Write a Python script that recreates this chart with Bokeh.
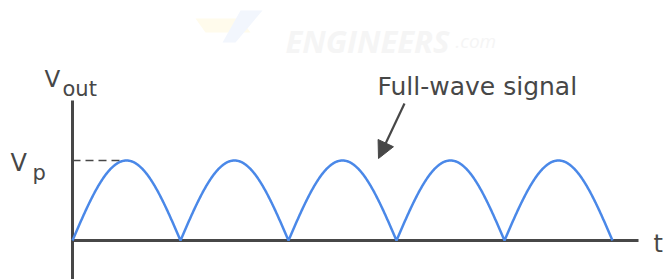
import numpy as np
from bokeh.plotting import figure
from bokeh.models import Range1d, Arrow, NormalHead
from bokeh.core.properties import value
from bokeh.embed import file_html
from bokeh.resources import INLINE

# ---- data ----
peak_voltage = 1.0          # Vp
half_cycles = 5             # number of rectified half-waves shown
samples_per_half = 200
axis_labels = ["V", "out", "V", "p", "t"]
annotation_text = "Full-wave signal"

# full-wave rectified signal: |sin|
t = np.linspace(0, half_cycles, half_cycles * samples_per_half + 1)
v = peak_voltage * np.abs(np.sin(np.pi * t))

# ---- layout helpers (page px -> data units) ----
X0, XS = 72.0, 108.0     # x pixel of t=0, px per half-cycle
Y0, YS = 240.0, 80.0     # y pixel of v=0, px per unit voltage
def dx(px): return (px - X0) / XS
def dy(py): return (Y0 - py) / YS

W, H = 664, 279
p = figure(width=W, height=H, output_backend="svg", toolbar_location=None,
           x_range=Range1d(dx(0), dx(W)), y_range=Range1d(dy(H), dy(0)),
           min_border=0, outline_line_color=None)
p.axis.visible = False
p.grid.visible = False
p.background_fill_color = "white"

AX = "#474747"
FONT = value("DejaVu Sans")

# watermark
p.patch(x=[dx(195), dx(240), dx(250), dx(205)], y=[dy(18), dy(18), dy(32), dy(32)],
        fill_color="#fffbec", line_color=None)
p.patch(x=[dx(240), dx(262), dx(235), dx(222)], y=[dy(10), dy(10), dy(42), dy(42)],
        fill_color="#f2f6fd", line_color=None)
p.text(x=[dx(285)], y=[dy(40)], text=["ENGINEERS"], text_font=value("Open Sans"),
       text_font_size="31px", text_font_style="bold italic", text_color="#f5f5f5",
       text_baseline="alphabetic")
p.text(x=[dx(455)], y=[dy(40)], text=[".com"], text_font=value("Open Sans"),
       text_font_size="19px", text_font_style="italic", text_color="#f5f5f5",
       text_baseline="alphabetic")

# axes
p.segment(x0=[dx(72)], y0=[dy(100)], x1=[dx(72)], y1=[dy(300)], line_color=AX, line_width=3)
p.segment(x0=[dx(72)], y0=[0], x1=[dx(638)], y1=[0], line_color=AX, line_width=3)

# dashed Vp reference
p.segment(x0=[dx(72)], y0=[peak_voltage], x1=[0.45], y1=[peak_voltage],
          line_color=AX, line_width=1.5, line_dash="8 5")

# signal
p.line(t, v, line_color="#4a88e8", line_width=2.5)

# labels
p.text(x=[dx(44)], y=[dy(78)], text=[axis_labels[0]], text_font=FONT, text_font_size="23px",
       text_color=AX, text_baseline="alphabetic")
p.text(x=[dx(62)], y=[dy(88)], text=[axis_labels[1]], text_font=FONT, text_font_size="21px",
       text_color=AX, text_baseline="alphabetic")
p.text(x=[dx(10)], y=[dy(162)], text=[axis_labels[2]], text_font=FONT, text_font_size="24px",
       text_color=AX, text_baseline="alphabetic")
p.text(x=[dx(32)], y=[dy(172)], text=[axis_labels[3]], text_font=FONT, text_font_size="21px",
       text_color=AX, text_baseline="alphabetic")
p.text(x=[dx(653)], y=[dy(243)], text=[axis_labels[4]], text_font=FONT, text_font_size="24px",
       text_color=AX, text_baseline="alphabetic")
p.text(x=[dx(377)], y=[dy(86)], text=[annotation_text], text_font=FONT, text_font_size="25px",
       text_color=AX, text_baseline="alphabetic")

# arrow
p.add_layout(Arrow(end=NormalHead(size=17, fill_color=AX, line_color=AX),
                   x_start=dx(404), y_start=dy(103), x_end=dx(378), y_end=dy(158),
                   line_color=AX, line_width=2.2))

open("out.html", "w").write(file_html(p, INLINE))
